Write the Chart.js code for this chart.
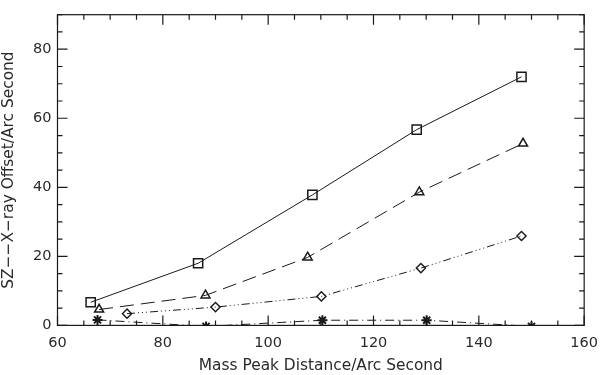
<!DOCTYPE html>
<html>
<head>
<meta charset="utf-8">
<script src="https://cdn.jsdelivr.net/npm/chart.js@4/dist/chart.umd.min.js"></script>
<style>
  html, body { margin: 0; background: #fff; }
  #wrap { width: 607px; height: 375px; }
</style>
</head>
<body>
<div id="wrap"><canvas id="c"></canvas></div>
<script>
// offsets vs. mass-peak distance, one array pair per curve
const sqX = [66.3, 86.7, 108.4, 128.2, 148.1];
const sqY = [6.7, 18.0, 37.8, 56.7, 72.0];
const triX = [67.9, 88.1, 107.5, 128.7, 148.4];
const triY = [4.6, 8.7, 19.7, 38.6, 52.7];
const diaX = [73.2, 90.0, 110.1, 129.0, 148.1];
const diaY = [3.4, 5.3, 8.4, 16.6, 25.9];
const starX = [67.6, 88.2, 110.3, 130.1, 150.0];
const starY = [1.6, -0.3, 1.5, 1.5, -0.3];

const xTicks = [60, 80, 100, 120, 140, 160];
const yTicks = [0, 20, 40, 60, 80];

const INK = '#1a1a1a';
const TXT = '#2a2a2a';
const FONT = 'DejaVu Sans';
const pts = (xs, ys) => xs.map((x, i) => ({ x, y: ys[i] }));

function series(xs, ys, style, radius, dash, pw) {
  return {
    data: pts(xs, ys), showLine: true, borderColor: INK, borderWidth: 1,
    borderDash: dash, pointStyle: style, pointRadius: radius,
    pointBorderColor: INK, pointBackgroundColor: 'rgba(0,0,0,0)',
    pointBorderWidth: pw, clip: 0
  };
}

// box frame plus inward major/minor ticks on all four sides
const frameTicks = {
  id: 'frameTicks',
  afterDatasetsDraw(chart) {
    const { ctx, chartArea: a, scales: { x, y } } = chart;
    ctx.save();
    ctx.strokeStyle = INK;
    ctx.lineWidth = 1.2;
    ctx.strokeRect(a.left, a.top, a.right - a.left, a.bottom - a.top);
    ctx.beginPath();
    for (let v = 60; v <= 160; v += 5) {
      const p = x.getPixelForValue(v), len = v % 20 === 0 ? 10 : 5;
      ctx.moveTo(p, a.bottom); ctx.lineTo(p, a.bottom - len);
      ctx.moveTo(p, a.top); ctx.lineTo(p, a.top + len);
    }
    for (let v = 0; v <= 90; v += 5) {
      const p = y.getPixelForValue(v), len = v % 20 === 0 ? 10 : 5;
      ctx.moveTo(a.left, p); ctx.lineTo(a.left + len, p);
      ctx.moveTo(a.right, p); ctx.lineTo(a.right - len, p);
    }
    ctx.stroke();
    ctx.restore();
  }
};

new Chart(document.getElementById('c'), {
  type: 'scatter',
  data: {
    datasets: [
      series(sqX, sqY, 'rect', 6.5, [], 1.5),
      series(triX, triY, 'triangle', 5.2, [14, 7], 1.5),
      series(diaX, diaY, 'rectRot', 4.6, [8, 3, 1, 3, 1, 3, 1, 3], 1.4),
      series(starX, starY, 'star', 5, [9, 4, 1, 4], 2)
    ]
  },
  options: {
    responsive: true, maintainAspectRatio: false, animation: false,
    layout: { padding: { top: 7, right: 14, left: 0, bottom: 0 } },
    plugins: { legend: { display: false }, tooltip: { enabled: false } },
    scales: {
      x: {
        type: 'linear', min: 60, max: 160,
        afterFit: s => { s.height = 49.6; },
        afterBuildTicks: s => { s.ticks = xTicks.map(v => ({ value: v })); },
        grid: { display: false, drawTicks: false },
        border: { display: false },
        ticks: { color: TXT, padding: 9, maxRotation: 0, font: { family: FONT, size: 14.5 } },
        title: { display: true, text: 'Mass Peak Distance/Arc Second', color: TXT, padding: 0,
                 font: { family: FONT, size: 15.4 } }
      },
      y: {
        type: 'linear', min: 0, max: 90,
        afterFit: s => { s.width = 57.5; },
        afterBuildTicks: s => { s.ticks = yTicks.map(v => ({ value: v })); },
        grid: { display: false, drawTicks: false },
        border: { display: false },
        ticks: { color: TXT, padding: 6, font: { family: FONT, size: 14.5 } },
        title: { display: true, text: 'SZ\u2212\u2212X\u2212ray Offset/Arc Second', color: TXT, padding: 0,
                 font: { family: FONT, size: 15.4 } }
      }
    }
  },
  plugins: [frameTicks]
});
</script>
</body>
</html>
